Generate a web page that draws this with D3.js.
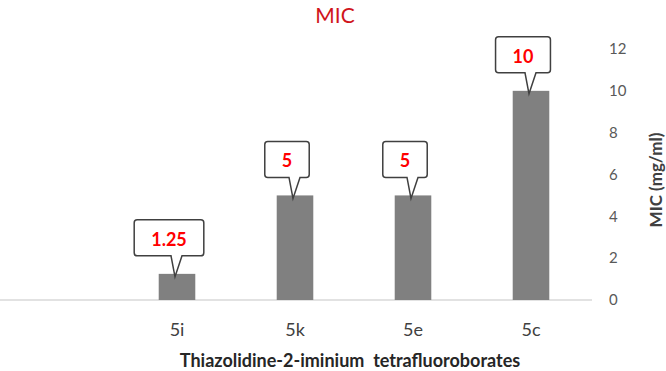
<!DOCTYPE html>
<html>
<head>
<meta charset="utf-8">
<script src="https://cdn.jsdelivr.net/npm/d3@7"></script>
<style>
  html, body { margin: 0; padding: 0; background: #ffffff; }
  svg { display: block; }
</style>
</head>
<body>
<svg id="chart" width="666" height="371"></svg>
<script>
// ---- data ----
const categories = ["", "5i", "5k", "5e", "5c"];
const values = [null, 1.25, 5, 5, 10];
const valueLabels = ["", "1.25", "5", "5", "10"];
const yTicks = [0, 2, 4, 6, 8, 10, 12];
const chartTitle = "MIC";
const xTitle = "Thiazolidine-2-iminium\u00a0\u00a0tetrafluoroborates";
const yTitle = "MIC (mg/ml)";

// ---- layout ----
const W = 666, H = 371;
const font = "Lato, 'Open Sans', 'DejaVu Sans', sans-serif";
const svg = d3.select("#chart");

const x = d3.scaleBand().domain(categories).range([0, 590]).paddingInner(0).paddingOuter(0);
const y = d3.scaleLinear().domain([0, 12]).range([300, 49]);
const barW = x.bandwidth() * 0.31;

// title
svg.append("text")
  .attr("x", 335).attr("y", 23)
  .attr("text-anchor", "middle")
  .attr("font-family", font).attr("font-size", 21)
  .attr("fill", "#d0141c")
  .text(chartTitle);

// baseline
svg.append("line")
  .attr("x1", 0).attr("x2", 592)
  .attr("y1", y(0)).attr("y2", y(0))
  .attr("stroke", "#d9d9d9").attr("stroke-width", 1.3);

// right axis (labels only)
const yAxis = d3.axisRight(y).tickValues(yTicks).tickSize(0).tickPadding(0).tickFormat(d3.format("d"));
const gy = svg.append("g").attr("transform", "translate(609,0)").call(yAxis);
gy.select(".domain").remove();
gy.selectAll("text")
  .attr("font-family", font).attr("font-size", 15)
  .attr("fill", "#595959");

// y title
svg.append("text")
  .attr("transform", "translate(655,180) rotate(-90)")
  .attr("text-anchor", "middle").attr("dominant-baseline", "central")
  .attr("font-family", font).attr("font-size", 17).attr("font-weight", "bold")
  .attr("fill", "#404040")
  .text(yTitle);

// x axis labels
const xAxis = d3.axisBottom(x).tickSize(0).tickPadding(0);
const gx = svg.append("g").attr("transform", "translate(0,323)").call(xAxis);
gx.select(".domain").remove();
gx.selectAll("text")
  .attr("font-family", font).attr("font-size", 18)
  .attr("fill", "#404040");

// x title
svg.append("text")
  .attr("x", 350).attr("y", 367)
  .attr("text-anchor", "middle")
  .attr("font-family", font).attr("font-size", 18).attr("font-weight", "bold")
  .attr("fill", "#262626")
  .text(xTitle);

// bars
const data = categories.map((c, i) => ({ c, v: values[i], label: valueLabels[i] })).filter(d => d.v != null);

svg.append("g").selectAll("rect").data(data).join("rect")
  .attr("x", d => x(d.c) + x.bandwidth() / 2 - barW / 2)
  .attr("width", barW)
  .attr("y", d => y(d.v))
  .attr("height", d => y(0) - y(d.v))
  .attr("fill", "#808080");

// callouts
const cg = svg.append("g");
data.forEach(d => {
  const bx = x(d.c) + x.bandwidth() / 2;
  const by = y(d.v);
  const t = cg.append("text")
    .attr("font-family", font).attr("font-size", 18).attr("font-weight", "bold")
    .attr("fill", "#ff0000")
    .attr("text-anchor", "middle").attr("dominant-baseline", "central")
    .text(d.label);
  const tw = t.node().getComputedTextLength();
  const bw = Math.max(40, tw + 34), bh = 36;
  const cx = bx - 8;
  const y1 = by - 18, y0 = y1 - bh;
  const x0 = cx - bw / 2, x1 = cx + bw / 2;
  const r = 3;
  const b0 = cx + 2, b1 = cx + 13;
  const tx = bx - 2, ty = by + 3;
  const p = `M${x0 + r},${y0} H${x1 - r} Q${x1},${y0} ${x1},${y0 + r} V${y1 - r} Q${x1},${y1} ${x1 - r},${y1} H${b1} L${tx},${ty} L${b0},${y1} H${x0 + r} Q${x0},${y1} ${x0},${y1 - r} V${y0 + r} Q${x0},${y0} ${x0 + r},${y0} Z`;
  cg.insert("path", "text").attr("d", p)
    .attr("fill", "#ffffff").attr("stroke", "#404040").attr("stroke-width", 1.5);
  t.attr("x", cx).attr("y", (y0 + y1) / 2 + 1).raise();
});
</script>
</body>
</html>
